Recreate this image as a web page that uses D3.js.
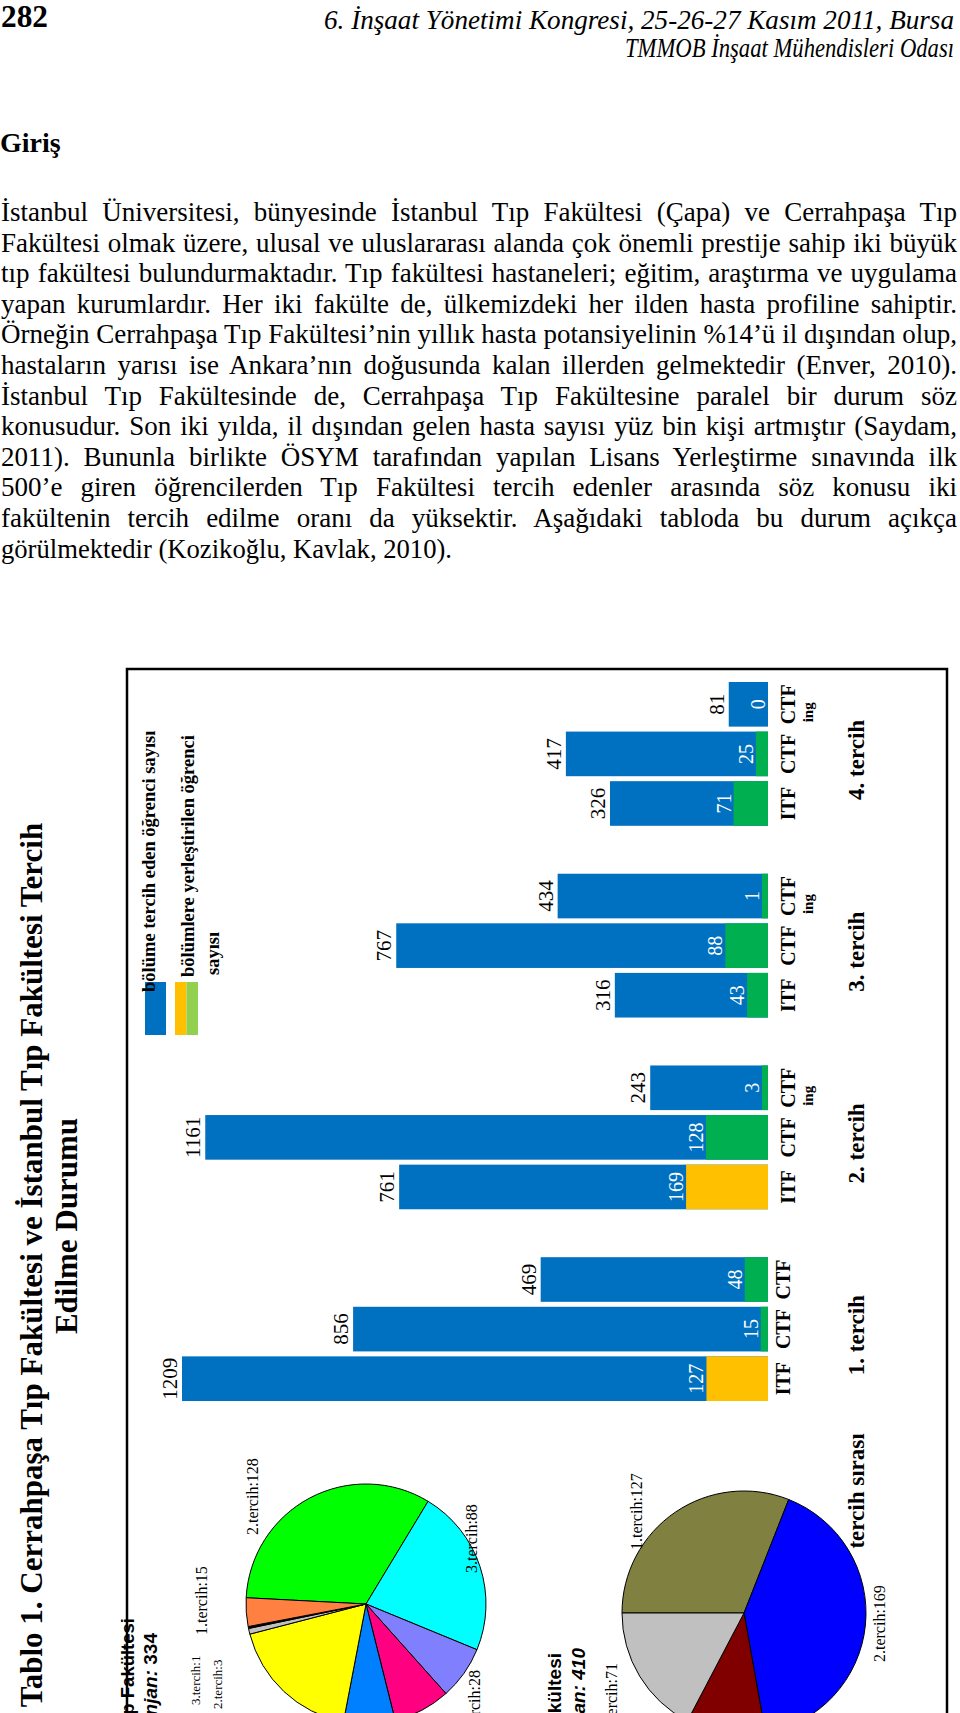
<!DOCTYPE html>
<html><head><meta charset="utf-8">
<script src="https://cdn.jsdelivr.net/npm/d3@7"></script>
<style>
body{margin:0;background:#fff;}
svg{display:block;}
</style></head>
<body>
<svg id="page" width="960" height="1713"></svg>
<script>
// ---------- data ----------
const pageNumber = "282";
const headerLines = ["6. İnşaat Yönetimi Kongresi, 25-26-27 Kasım 2011, Bursa", "TMMOB İnşaat Mühendisleri Odası"];
const sectionTitle = "Giriş";
const paragraphLines = [
  "İstanbul Üniversitesi, bünyesinde İstanbul Tıp Fakültesi (Çapa) ve Cerrahpaşa Tıp",
  "Fakültesi olmak üzere, ulusal ve uluslararası alanda çok önemli prestije sahip iki büyük",
  "tıp fakültesi bulundurmaktadır. Tıp fakültesi hastaneleri; eğitim, araştırma ve uygulama",
  "yapan kurumlardır. Her iki fakülte de, ülkemizdeki her ilden hasta profiline sahiptir.",
  "Örneğin Cerrahpaşa Tıp Fakültesi’nin yıllık hasta potansiyelinin %14’ü il dışından olup,",
  "hastaların yarısı ise Ankara’nın doğusunda kalan illerden gelmektedir (Enver, 2010).",
  "İstanbul Tıp Fakültesinde de, Cerrahpaşa Tıp Fakültesine paralel bir durum söz",
  "konusudur. Son iki yılda, il dışından gelen hasta sayısı yüz bin kişi artmıştır (Saydam,",
  "2011). Bununla birlikte ÖSYM tarafından yapılan Lisans Yerleştirme sınavında ilk",
  "500’e giren öğrencilerden Tıp Fakültesi tercih edenler arasında söz konusu iki",
  "fakültenin tercih edilme oranı da yüksektir. Aşağıdaki tabloda bu durum açıkça",
  "görülmektedir (Kozikoğlu, Kavlak, 2010)."
];
const titleLines = ["Tablo 1. Cerrahpaşa Tıp Fakültesi ve İstanbul Tıp Fakültesi Tercih", "Edilme Durumu"];
const legendLabels = ["bölüme tercih eden öğrenci sayısı", "bölümlere yerleştirilen öğrenci", "sayısı"];

const groups = ["1. tercih", "2. tercih", "3. tercih", "4. tercih"];
const faculties = [["ITF","CTF","CTF"], ["ITF","CTF","CTF"], ["ITF","CTF","CTF"], ["ITF","CTF","CTF"]];
const facultySuffix = [["","",""], ["","","ing"], ["","","ing"], ["","","ing"]];
const preferredCounts = [[1209, 856, 469], [761, 1161, 243], [316, 767, 434], [326, 417, 81]];
const placedCounts = [[127, 15, 48], [169, 128, 3], [43, 88, 1], [71, 25, 0]];
const axisTitle = "tercih sırası";

const ctfPieLabels = ["2.tercih", "3.tercih", "4.tercih", "", "", "", "2.tercih", "3.tercih", "1.tercih"];
const ctfPieValues = [128, 88, 28, 30, 27, 70, 3, 1, 15];
const ctfPieName = ["Cerrahpaşa Tıp Fakültesi", "Kontenjan:", "334"];
const itfPieLabels = ["1.tercih", "2.tercih", "3.tercih", "4.tercih"];
const itfPieValues = [127, 169, 43, 71];
const itfPieName = ["İstanbul Tıp Fakültesi", "Kontenjan:", "410"];

// ---------- styles ----------
const BLUE = "#0070C0";
const placedColors = [["#FFC000","#00B050","#00B050"], ["#FFC000","#00B050","#00B050"], ["#00B050","#00B050","#00B050"], ["#00B050","#00B050","#00B050"]];
const ctfPieColors = ["#00FF00","#00FFFF","#8080FF","#FF0080","#0080FF","#FFFF00","#C0C0C0","#000000","#FF8040"];
const itfPieColors = ["#808040","#0000FF","#800000","#C0C0C0"];
const SERIF = "'Liberation Serif','Times New Roman',serif";
const SANS = "'Liberation Sans',Arial,sans-serif";

const svg = d3.select("#page");

// ---------- page text ----------
svg.append("text").attr("x", 1).attr("y", 27).attr("font-family", SERIF)
  .attr("font-weight", "bold").attr("font-size", 32)
  .attr("textLength", 47).attr("lengthAdjust", "spacingAndGlyphs").text(pageNumber);

const hdrY = [29, 57], hdrW = [630, 329];
headerLines.forEach((t, i) => {
  svg.append("text").attr("x", 954).attr("y", hdrY[i]).attr("text-anchor", "end")
    .attr("font-family", SERIF).attr("font-style", "italic").attr("font-size", 27)
    .attr("textLength", hdrW[i]).attr("lengthAdjust", "spacingAndGlyphs").text(t);
});

svg.append("text").attr("x", 0).attr("y", 152).attr("font-family", SERIF)
  .attr("font-weight", "bold").attr("font-size", 28).text(sectionTitle);

const pLeft = 1, pRight = 957, pTop = 221, pStep = 30.6;
paragraphLines.forEach((t, i) => {
  const last = i === paragraphLines.length - 1;
  const el = svg.append("text").attr("x", pLeft).attr("y", pTop + i * pStep)
    .attr("font-family", SERIF).attr("font-size", 27).text(t);
  const target = last ? 451 : pRight - pLeft;
  const w = el.node().getComputedTextLength();
  const spaces = (t.match(/ /g) || []).length;
  if (w < target && spaces && !last) {
    el.attr("word-spacing", (target - w) / spaces);
  } else {
    el.attr("textLength", target).attr("lengthAdjust", "spacingAndGlyphs");
  }
});

// ---------- rotated figure (landscape) ----------
// local x runs up the page, local y runs to the right
const fig = svg.append("g").attr("transform", "translate(0,1713) rotate(-90)");

// frame
fig.append("rect").attr("x", -20).attr("y", 127).attr("width", 1064).attr("height", 820)
  .attr("fill", "none").attr("stroke", "#000").attr("stroke-width", 2.5);

// title
const tX = [448, 487], tY = [42, 77];
titleLines.forEach((t, i) => {
  fig.append("text").attr("x", tX[i]).attr("y", tY[i]).attr("text-anchor", "middle")
    .attr("font-family", SERIF).attr("font-weight", "bold").attr("font-size", 31).text(t);
});

// scales
const x0 = d3.scaleBand().domain(groups).range([312, 1031]).paddingInner(0.25);
const x1 = d3.scaleBand().domain([0, 1, 2]).range([0, x0.bandwidth()]).paddingInner(0.1);
const y = d3.scaleLinear().domain([0, d3.max(preferredCounts.flat())]).range([768, 182]);

const rows = [];
groups.forEach((g, gi) => {
  [0, 1, 2].forEach(bi => rows.push({
    g, gi, bi,
    pref: preferredCounts[gi][bi],
    placed: placedCounts[gi][bi],
    color: placedColors[gi][bi],
    fac: faculties[gi][bi],
    suf: facultySuffix[gi][bi]
  }));
});
const bx = d => x0(d.g) + x1(d.bi);
const bc = d => bx(d) + x1.bandwidth() / 2;
const segH = d => d.placed > 0 ? Math.max(y(0) - y(d.placed), 6) : 0;

const bars = fig.append("g");
bars.selectAll("rect.pref").data(rows).join("rect").attr("class", "pref")
  .attr("x", bx).attr("width", x1.bandwidth())
  .attr("y", d => y(d.pref)).attr("height", d => y(0) - y(d.pref)).attr("fill", BLUE);
bars.selectAll("rect.placed").data(rows.filter(d => d.placed > 0)).join("rect").attr("class", "placed")
  .attr("x", bx).attr("width", x1.bandwidth())
  .attr("y", d => y(0) - segH(d)).attr("height", segH).attr("fill", d => d.color);

// value labels
bars.selectAll("text.pref").data(rows).join("text").attr("class", "pref")
  .attr("x", bc).attr("y", d => y(d.pref) - 5).attr("text-anchor", "middle")
  .attr("font-family", SERIF).attr("font-size", 21).attr("fill", "#000").text(d => d.pref);
bars.selectAll("text.placed").data(rows).join("text").attr("class", "placed")
  .attr("x", bc).attr("y", d => y(0) - segH(d) - 3).attr("text-anchor", "middle")
  .attr("font-family", SERIF).attr("font-size", 20).attr("fill", "#fff").text(d => d.placed);

// category labels
bars.selectAll("text.fac").data(rows).join("text").attr("class", "fac")
  .attr("x", bc).attr("y", d => d.gi === 0 ? 790 : 795).attr("text-anchor", "middle")
  .attr("font-family", SERIF).attr("font-weight", "bold").attr("font-size", 20).text(d => d.fac);
bars.selectAll("text.suf").data(rows.filter(d => d.suf)).join("text").attr("class", "suf")
  .attr("x", d => bc(d) - 8).attr("y", 813).attr("text-anchor", "middle")
  .attr("font-family", SERIF).attr("font-weight", "bold").attr("font-size", 15).text(d => d.suf);

fig.selectAll("text.grp").data(groups).join("text").attr("class", "grp")
  .attr("x", g => x0(g) + x0.bandwidth() / 2 - 6).attr("y", 864).attr("text-anchor", "middle")
  .attr("font-family", SERIF).attr("font-weight", "bold").attr("font-size", 23).text(g => g);
fig.append("text").attr("x", 222).attr("y", 864).attr("text-anchor", "middle")
  .attr("font-family", SERIF).attr("font-weight", "bold").attr("font-size", 23).text(axisTitle);

// legend
const lg = fig.append("g");
lg.append("rect").attr("x", 678).attr("y", 145).attr("width", 53).attr("height", 21).attr("fill", BLUE);
lg.append("rect").attr("x", 678).attr("y", 175).attr("width", 53).attr("height", 11.5).attr("fill", "#FFC000");
lg.append("rect").attr("x", 678).attr("y", 186.5).attr("width", 53).attr("height", 11.5).attr("fill", "#92D050");
const lgPos = [[721, 155], [736, 194], [738, 219]];
legendLabels.forEach((t, i) => {
  lg.append("text").attr("x", lgPos[i][0]).attr("y", lgPos[i][1])
    .attr("font-family", SERIF).attr("font-weight", "bold").attr("font-size", 18.5).text(t);
});

// ---------- pies ----------
function drawPie(values, colors, cx, cy, r, startDeg) {
  const a0 = startDeg * Math.PI / 180;
  const pie = d3.pie().sort(null).startAngle(a0).endAngle(a0 + 2 * Math.PI);
  const arc = d3.arc().innerRadius(0).outerRadius(r);
  const g = fig.append("g").attr("transform", `translate(${cx},${cy})`);
  g.selectAll("path").data(pie(values)).join("path")
    .attr("d", arc).attr("fill", (d, i) => colors[i])
    .attr("stroke", "#000").attr("stroke-width", 1);
  return g;
}
drawPie(ctfPieValues, ctfPieColors, 109, 366, 120, 3);
drawPie(itfPieValues, itfPieColors, 100, 744, 122, 0);

// pie labels: [slice index, x, y, anchor, size]
const ctfLabelPos = [[0, 178, 258, "start", 16], [8, 78, 207, "start", 16], [1, 140, 477, "start", 16],
                     [7, 8, 200, "start", 13], [6, 4, 222, "start", 13], [2, 43, 480, "end", 16]];
ctfLabelPos.forEach(([i, x, yy, anc, fs]) => {
  fig.append("text").attr("x", x).attr("y", yy).attr("text-anchor", anc)
    .attr("font-family", SERIF).attr("font-size", fs).text(`${ctfPieLabels[i]}:${ctfPieValues[i]}`);
});
const itfLabelPos = [[0, 163, 642, "start", 16], [3, 50, 617, "end", 16], [1, 51, 885, "start", 16]];
itfLabelPos.forEach(([i, x, yy, anc, fs]) => {
  fig.append("text").attr("x", x).attr("y", yy).attr("text-anchor", anc)
    .attr("font-family", SERIF).attr("font-size", fs).text(`${itfPieLabels[i]}:${itfPieValues[i]}`);
});

// pie titles
fig.append("text").attr("x", 95).attr("y", 134).attr("text-anchor", "end")
  .attr("font-family", SANS).attr("font-weight", "bold").attr("font-size", 18.5).text(ctfPieName[0]);
const k1 = fig.append("text").attr("x", 80).attr("y", 157).attr("text-anchor", "end")
  .attr("font-family", SANS).attr("font-weight", "bold").attr("font-size", 19);
k1.append("tspan").attr("font-style", "italic").text(ctfPieName[1] + " ");
k1.append("tspan").text(ctfPieName[2]);
fig.append("text").attr("x", 60).attr("y", 561).attr("text-anchor", "end")
  .attr("font-family", SANS).attr("font-weight", "bold").attr("font-size", 19).text(itfPieName[0]);
fig.append("text").attr("x", 65).attr("y", 585).attr("text-anchor", "end")
  .attr("font-family", SANS).attr("font-weight", "bold").attr("font-style", "italic").attr("font-size", 19)
  .text(itfPieName[1] + " " + itfPieName[2]);
</script>
</body></html>
